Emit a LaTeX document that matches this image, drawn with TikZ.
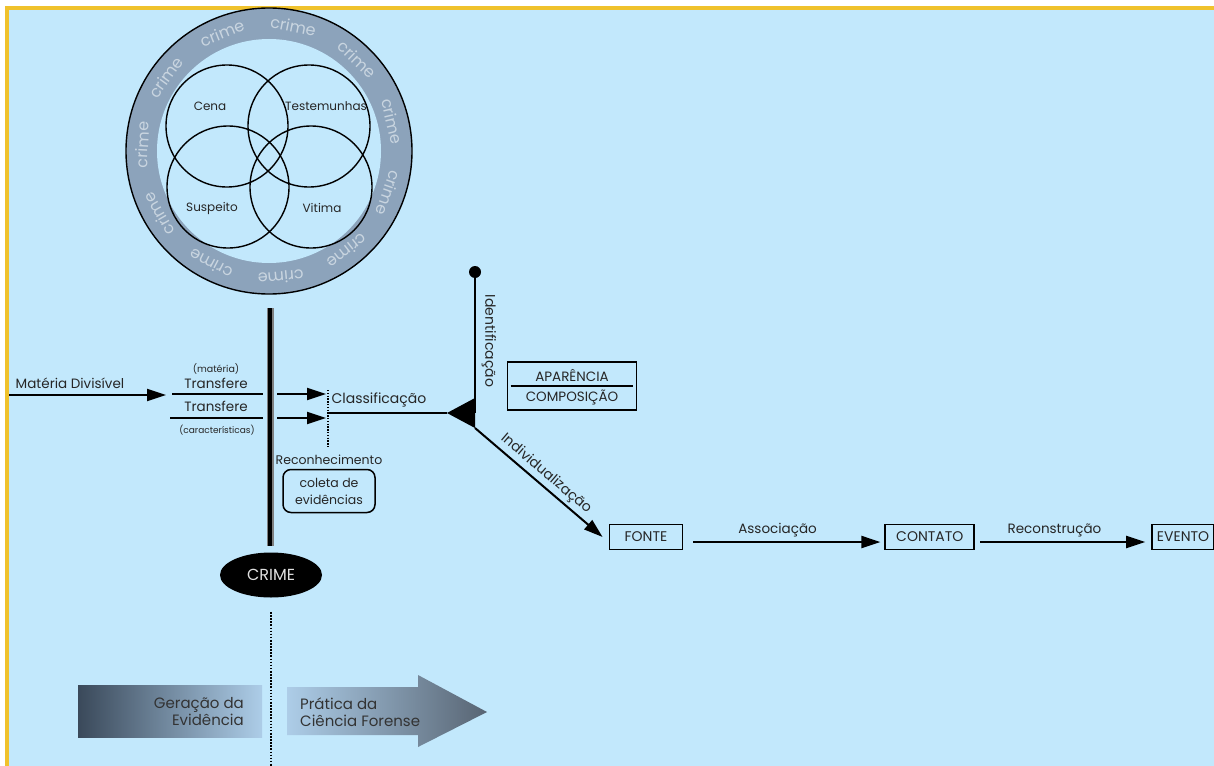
\documentclass[tikz,border=0pt]{standalone}
\usepackage{fontspec}
\setmainfont{Poppins}
\usetikzlibrary{positioning, arrows.meta, shapes.geometric}
\definecolor{skyback}{HTML}{C2E8FC}
\definecolor{framegold}{HTML}{F0C22C}
\definecolor{ringgray}{HTML}{8CA3BB}
\definecolor{ringink}{HTML}{C9D5E0}
\definecolor{inkgray}{HTML}{262626}
\definecolor{slatedark}{HTML}{3A495A}
\definecolor{slatelight}{HTML}{ADCDE8}

\begin{document}
\begin{tikzpicture}[
    x=1pt, y=-1pt,
    every node/.style={text=inkgray, inner sep=1pt},
    txt/.style={font=\fontsize{13.5}{16}\selectfont},
    small/.style={font=\fontsize{9.5}{11}\selectfont},
    tagbox/.style={rectangle, draw=black, line width=1.8pt, minimum height=25pt, inner xsep=4pt, font=\fontsize{14}{16}\selectfont},
    flow/.style={line width=2pt, -{Triangle[length=19pt, width=12pt]}},
    venn/.style={circle, draw=black, line width=1.4pt, minimum size=122pt, inner sep=0pt},
    banner/.style={font=\fontsize{15}{17}\selectfont, text=black!80, inner sep=0pt}
]
    \useasboundingbox (0,0) rectangle (1214,765);
    \clip (0,0) rectangle (1214,765);
    % fundo e moldura
    \fill[white] (0,0) rectangle (1214,765);
    \draw[framegold, line width=4pt, fill=skyback] (7,8.5) rectangle (1222,772);

    % anel do crime
    \coordinate (ringc) at (269,151);
    \fill[ringgray] (ringc) circle (143pt);
    \draw[line width=1.4pt] (ringc) circle (143pt);
    \fill[skyback] (ringc) circle (112pt);
    \foreach \k in {0,...,10}
        \node[font=\fontsize{16}{18}\selectfont, text=ringink, inner sep=0pt, rotate={79+\k*360/11-90}] (crime\k)
            at ([shift={({79+\k*360/11}:127pt)}]ringc) {crime};

    % circulos de Venn
    \node[venn] (cena) at (227,126) {};
    \node[venn] (testem) at (309,126) {};
    \node[venn] (susp) at (228,187) {};
    \node[venn] (vitima) at (311,187) {};
    \node[font=\fontsize{12}{14}\selectfont] (cenalbl) at (210,106) {Cena};
    \node[font=\fontsize{12}{14}\selectfont] (testlbl) at (326,106) {Testemunhas};
    \node[font=\fontsize{12}{14}\selectfont] (susplbl) at (212,208) {Suspeito};
    \node[font=\fontsize{12}{14}\selectfont] (vitlbl) at (322,208) {Vitima};

    % barra vertical e CRIME
    \coordinate (bartop) at (270,308);
    \coordinate (barbot) at (270,546);
    \draw[line width=7pt, black!50] (bartop) -- (barbot);
    \draw[line width=4pt, black] (bartop) -- (barbot);
    \node[ellipse, fill=black, minimum width=102pt, minimum height=45pt, text=black!12, font=\fontsize{16}{18}\selectfont] (crimeoval) at (271,575) {CRIME};
    \coordinate (dottop) at (271,612);
    \coordinate (dotbot) at (271,770);

    % faixas de gradiente
    \shade[left color=slatedark, right color=slatelight] (78,685) rectangle (262,737);
    \shade[left color=slatelight, right color=slatedark!85] (287,687) -- (418,687) -- (418,675) -- (487,712) -- (418,747) -- (418,735) -- (287,735) -- cycle;
    \node[banner, align=right, anchor=east] (geracao) at (244,712) {Geração da\\Evidência};
    \node[banner, align=left, anchor=west] (pratica) at (300,712) {Prática da\\Ciência Forense};
    \draw[line width=2.4pt, dash pattern=on 1.6pt off 1.5pt] (dottop) -- (dotbot);

    % entrada e transferencia
    \node[txt] (materia) at (70,383) {Matéria Divisível};
    \coordinate (matin) at (9,395);
    \coordinate (matout) at (166,395);
    \draw[flow] (matin) -- (matout);
    \node[small] (matlbl) at (216,369) {(matéria)};
    \node[txt] (transf1) at (216,383) {Transfere};
    \node[txt] (transf2) at (216,406) {Transfere};
    \node[small, font=\fontsize{9}{11}\selectfont] (caraclbl) at (217,430) {(características)};
    \coordinate (t1a) at (172,394); \coordinate (t1b) at (263,394);
    \coordinate (t2a) at (170,418); \coordinate (t2b) at (263,418);
    \draw[line width=2pt] (t1a) -- (t1b);
    \draw[line width=2pt] (t2a) -- (t2b);
    \coordinate (a1a) at (277,394); \coordinate (a1b) at (326,394);
    \coordinate (a2a) at (277,418); \coordinate (a2b) at (326,418);
    \draw[flow] (a1a) -- (a1b);
    \draw[flow] (a2a) -- (a2b);

    % reconhecimento e classificacao
    \coordinate (rectop) at (328,390);
    \coordinate (recbot) at (328,447);
    \draw[line width=1.3pt, dash pattern=on 1.3pt off 1.5pt] (rectop) -- (recbot);
    \node[txt, font=\fontsize{14}{16}\selectfont] (classif) at (379,400) {Classificação};
    \node[txt, font=\fontsize{12.5}{15}\selectfont] (reconh) at (329,460) {Reconhecimento};
    \node[draw=black, line width=1.5pt, rounded corners=8pt, minimum width=92pt, minimum height=43pt, align=center, font=\fontsize{12.5}{17}\selectfont] (coleta) at (329,491) {coleta de\\evidências};
    \coordinate (classin) at (328,413);
    \coordinate (junction) at (475,413);
    \coordinate (jtip) at (447,413);
    \coordinate (jbottom) at (475,428);
    \draw[line width=2pt] (classin) -- (jtip);
    \fill (jtip) -- (475,398) -- (jbottom) -- cycle;

    % identificacao
    \node[circle, fill=black, minimum size=12pt, inner sep=0pt] (idot) at (475,272) {};
    \draw[line width=2pt] (junction) -- (idot);
    \node[txt, font=\fontsize{14}{16}\selectfont, rotate=-90] (identif) at (489,341) {Identificação};
    \node[tagbox, minimum width=129pt, minimum height=48pt] (aparbox) at (572,386) {};
    \node[font=\fontsize{13.5}{15}\selectfont] (apar) at (572,375) {APARÊNCIA};
    \node[font=\fontsize{13.5}{15}\selectfont] (comp) at (572,397) {COMPOSIÇÃO};
    \draw[line width=1.4pt] ([xshift=4pt]aparbox.west) -- ([xshift=-4pt]aparbox.east);

    % fonte, contato, evento
    \node[tagbox, minimum width=73pt] (fonte) at (646,537) {FONTE};
    \node[tagbox, minimum width=89pt, right=201pt of fonte] (contato) {CONTATO};
    \node[tagbox, minimum width=62pt, right=176pt of contato] (evento) {EVENTO};
    \draw[flow] (jbottom) -- ([xshift=-6pt]fonte.west) node[midway, sloped, above=2pt, font=\fontsize{14}{16}\selectfont] {Individualização};
    \draw[flow] ([xshift=10pt, yshift=-5pt]fonte.east) -- ([xshift=-4pt, yshift=-5pt]contato.west) node[pos=0.45, above=3pt, txt] {Associação};
    \draw[flow] ([xshift=5pt, yshift=-5pt]contato.east) -- ([xshift=-6pt, yshift=-5pt]evento.west) node[pos=0.45, above=3pt, txt] {Reconstrução};
\end{tikzpicture}
\end{document}
